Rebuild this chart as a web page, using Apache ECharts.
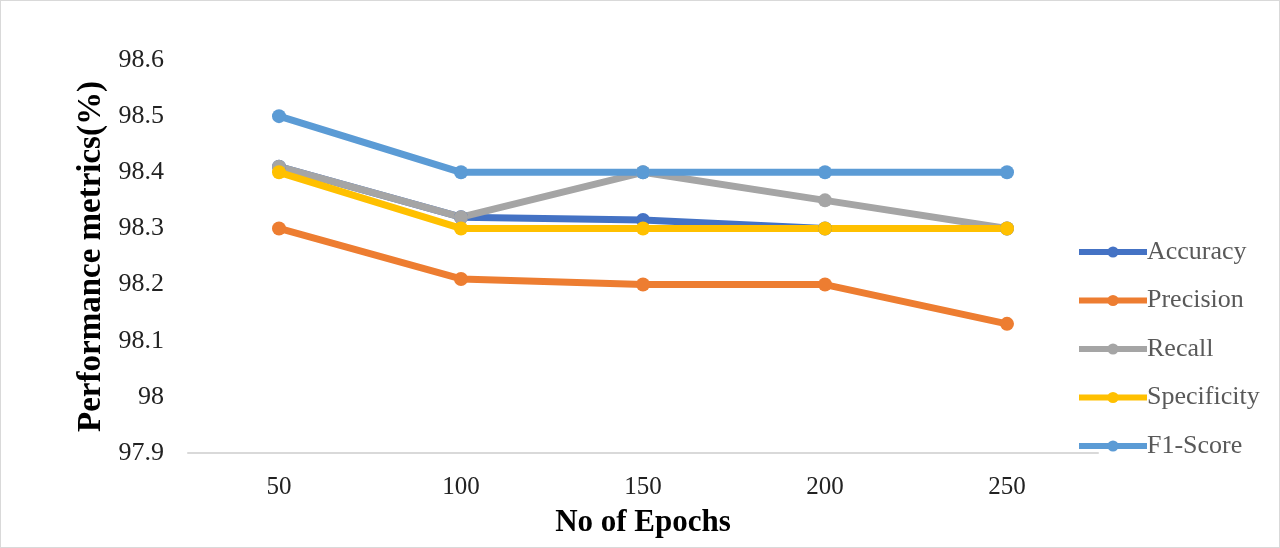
<!DOCTYPE html>
<html>
<head>
<meta charset="utf-8">
<script src="https://cdn.jsdelivr.net/npm/echarts@6/dist/echarts.min.js"></script>
<style>
  html, body { margin: 0; padding: 0; background: #fff; }
  #chart { width: 1278px; height: 546px; border: 1px solid #d9d9d9; }
</style>
</head>
<body>
<div id="chart"></div>
<script>
// epochs on x axis
var epochs = ['50', '100', '150', '200', '250'];

// values
var accuracy    = [98.41, 98.32, 98.315, 98.30, 98.30];
var precision   = [98.30, 98.21, 98.20, 98.20, 98.13];
var recall      = [98.41, 98.32, 98.40, 98.35, 98.30];
var specificity = [98.40, 98.30, 98.30, 98.30, 98.30];
var f1Score     = [98.50, 98.40, 98.40, 98.40, 98.40];

var yTicks = { min: 97.9, max: 98.6, step: 0.1 };

var font = '"Liberation Serif", "Times New Roman", serif';

function line(name, data, color) {
  return {
    name: name,
    type: 'line',
    data: data,
    symbol: 'circle',
    symbolSize: 14,
    lineStyle: { width: 7, color: color },
    itemStyle: { color: color },
    emphasis: { disabled: true }
  };
}

var chart = echarts.init(document.getElementById('chart'));
chart.setOption({
  animation: false,
  textStyle: { fontFamily: font },
  grid: { left: 187, right: 181, top: 59, bottom: 94 },
  legend: {
    orient: 'vertical',
    left: 1070,
    top: 233,
    itemWidth: 68,
    itemHeight: 14,
    itemGap: 22.5,
    lineStyle: { width: 6 },
    textStyle: { fontFamily: font, fontSize: 26, color: '#595959', padding: [0, 0, 0, -5] },
    data: ['Accuracy', 'Precision', 'Recall', 'Specificity', 'F1-Score']
  },
  xAxis: {
    type: 'category',
    data: epochs,
    name: 'No of Epochs',
    nameLocation: 'middle',
    nameGap: 54,
    nameTextStyle: { fontFamily: font, fontSize: 31, fontWeight: 'bold', color: '#000' },
    axisLine: { lineStyle: { color: '#d9d9d9', width: 2 } },
    axisTick: { show: false },
    axisLabel: { fontFamily: font, fontSize: 25, color: '#222', margin: 22 }
  },
  yAxis: {
    type: 'value',
    min: yTicks.min,
    max: yTicks.max,
    interval: yTicks.step,
    name: 'Performance metrics(%)',
    nameLocation: 'middle',
    nameGap: 79,
    nameTextStyle: { fontFamily: font, fontSize: 33, fontWeight: 'bold', color: '#000' },
    axisLine: { show: false },
    axisTick: { show: false },
    splitLine: { show: false },
    axisLabel: {
      fontFamily: font, fontSize: 26, color: '#222', margin: 24,
      formatter: function (v) { return String(Math.round(v * 10) / 10); }
    }
  },
  series: [
    line('Accuracy', accuracy, '#4472c4'),
    line('Precision', precision, '#ed7d31'),
    line('Recall', recall, '#a5a5a5'),
    line('Specificity', specificity, '#ffc000'),
    line('F1-Score', f1Score, '#5b9bd5')
  ]
});
</script>
</body>
</html>
